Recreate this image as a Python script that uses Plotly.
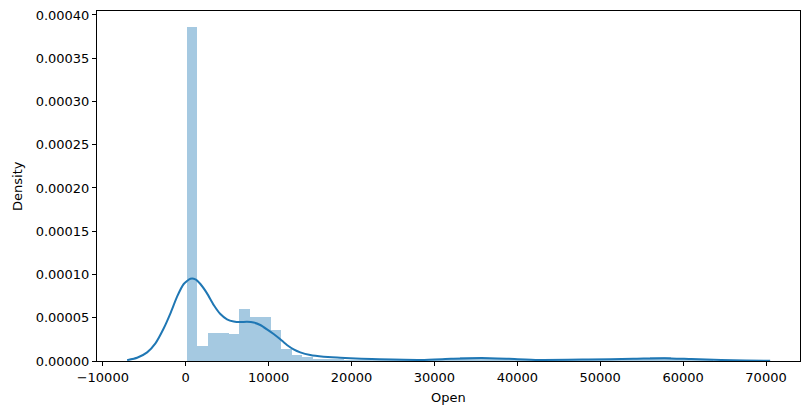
import plotly.graph_objects as go

# Histogram (density) of "Open": 50 equal-width bins
bin_start = 100
bin_width = 1270
hist_density = [
    0.000386, 0.0000177, 0.0000327, 0.0000327, 0.0000312, 0.0000601, 0.0000512, 0.0000512,
    0.0000358, 0.0000139, 0.0000069, 0.0000043, 0.0000025, 0.0000018, 0.0000012, 0.0000010,
    0.0000008, 0.0000008, 0.0000006, 0.0000006, 0.0000006, 0.0000008, 0.0000012, 0.0000020,
    0.0000028, 0.0000036, 0.0000042, 0.0000045, 0.0000040, 0.0000034, 0.0000026, 0.0000016,
    0.0000010, 0.0000008, 0.0000008, 0.0000010, 0.0000014, 0.0000018, 0.0000020, 0.0000022,
    0.0000024, 0.0000028, 0.0000034, 0.0000040, 0.0000044, 0.0000046, 0.0000040, 0.0000028,
    0.0000016, 0.0000008,
]
bin_centers = [bin_start + bin_width * (i + 0.5) for i in range(len(hist_density))]

# KDE curve
kde_x = [-7064, -5859, -4654, -3651, -2647, -1843, -1040, -237, 566, 1169, 1771, 2574,
         3378, 4181, 4984, 5788, 6590, 7394, 8197, 9000, 9804, 10607, 11410, 12213,
         13016, 13820, 15024, 16630, 18639, 19843, 22440, 28460, 32000, 35690, 39000,
         42520, 48540, 54000, 57770, 61000, 64600, 67500, 70500]
kde_y = [0.0000010, 0.0000038, 0.0000100, 0.0000204, 0.0000378, 0.0000551, 0.0000744,
         0.0000890, 0.0000950, 0.0000944, 0.0000890, 0.0000782, 0.0000647, 0.0000543,
         0.0000482, 0.0000457, 0.0000450, 0.0000453, 0.0000445, 0.0000416, 0.0000366,
         0.0000312, 0.0000251, 0.0000185, 0.0000135, 0.0000100, 0.0000069, 0.0000050,
         0.0000038, 0.0000031, 0.0000022, 0.0000013, 0.0000025, 0.0000034, 0.0000025,
         0.0000013, 0.0000018, 0.0000025, 0.0000033, 0.0000022, 0.0000012, 0.0000006,
         0.0000002]

x_ticks = [-10000, 0, 10000, 20000, 30000, 40000, 50000, 60000, 70000]
y_ticks = [0.0, 0.00005, 0.0001, 0.00015, 0.0002, 0.00025, 0.0003, 0.00035, 0.0004]

fig = go.Figure()
fig.add_trace(go.Bar(
    x=bin_centers, y=hist_density, width=[bin_width] * len(hist_density),
    marker=dict(color="#1f77b4", opacity=0.4, line=dict(width=0)),
    showlegend=False, hoverinfo="skip",
))
fig.add_trace(go.Scatter(
    x=kde_x, y=kde_y, mode="lines",
    line=dict(color="#1f77b4", width=2, shape="spline", smoothing=0.5),
    showlegend=False,
))

font = dict(family="DejaVu Sans", size=13, color="black")
fig.update_layout(
    width=810, height=414,
    margin=dict(l=97, r=10, t=11, b=53),
    paper_bgcolor="white", plot_bgcolor="white",
    font=font, bargap=0,
    xaxis=dict(
        range=[-10700, 74100], tickvals=x_ticks,
        ticktext=[f"{v}".replace("-", "\u2212") for v in x_ticks],
        showgrid=False, zeroline=False, showline=True, linecolor="black", linewidth=1,
        mirror=True, ticks="outside", ticklen=4, tickcolor="black", automargin=False,
    ),
    yaxis=dict(
        range=[0, 0.0004046], tickvals=y_ticks, tickformat=".5f",
        showgrid=False, zeroline=False, showline=True, linecolor="black", linewidth=1,
        mirror=True, ticks="outside", ticklen=4, tickcolor="black", automargin=False,
        ticklabeloverflow="allow",
    ),
    annotations=[
        dict(text="Open", xref="paper", yref="paper", x=0.5, y=0, yshift=-36,
             xanchor="center", yanchor="middle", showarrow=False, font=font),
        dict(text="Density", xref="paper", yref="paper", x=0, y=0.5, xshift=-80,
             xanchor="center", yanchor="middle", textangle=-90, showarrow=False, font=font),
    ],
)
# remove the browser's default 8px body margin so the figure sits at the page origin
fig.write_html("out.html", config={"displayModeBar": False},
               post_script="document.body.style.margin='0';")
